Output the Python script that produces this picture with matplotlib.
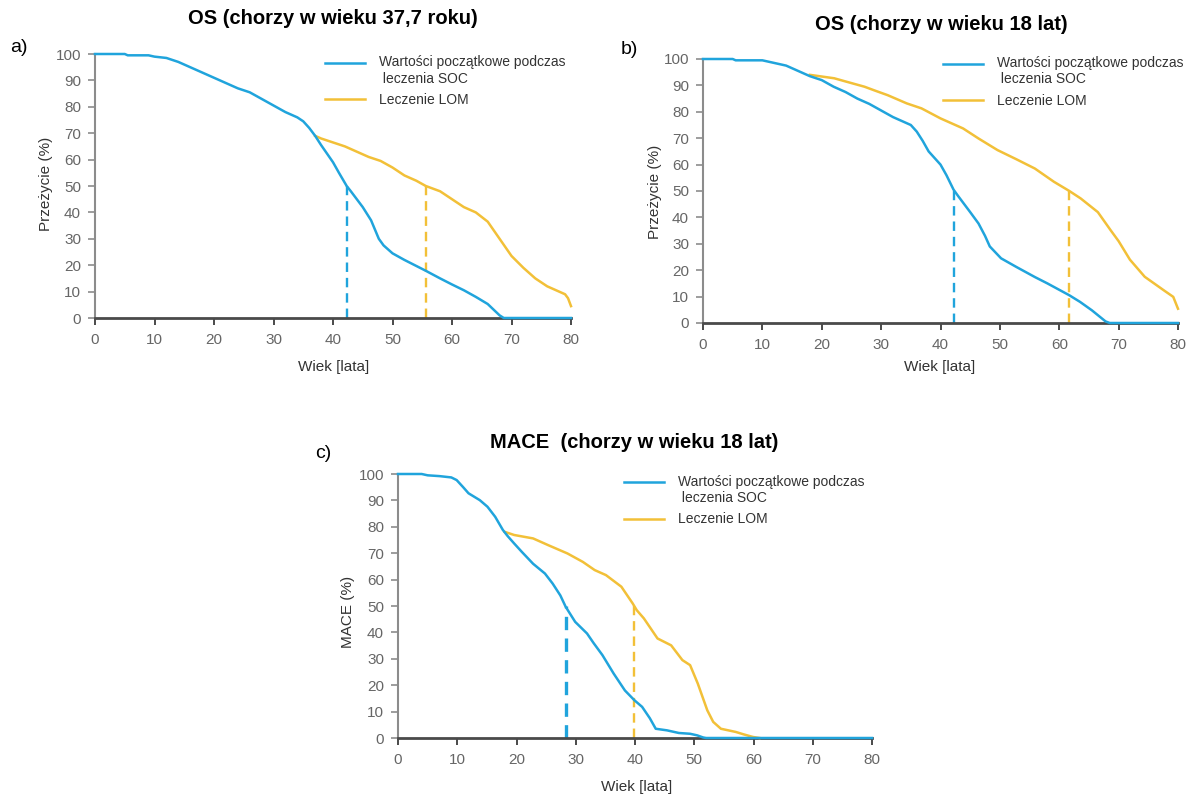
import matplotlib
matplotlib.use('Agg')
import matplotlib.pyplot as plt
from matplotlib.legend_handler import HandlerLine2D
from matplotlib.lines import Line2D
import numpy as np

plt.rcParams['font.family'] = ['Liberation Sans', 'DejaVu Sans']

BLUE = '#20a4dc'
YELLOW = '#f2c038'
GREY = '#666666'

# --- a) OS, chorzy w wieku 37,7 roku
a_age_soc = [0, 5, 5.5, 9, 10, 12, 14, 16, 18, 20, 22, 24, 26, 28, 30, 32, 34, 35, 36, 37,
             38, 40, 41, 42.3, 43, 45, 46.4, 47.7, 48.5, 50, 52, 55.5, 58, 60, 62, 64, 66,
             68, 68.7, 80]
a_soc = [100, 100, 99.5, 99.5, 99, 98.5, 97, 95, 93, 91, 89, 87, 85.5, 83, 80.5, 78, 76, 74.5,
         72, 69, 65.5, 59, 55, 50, 48, 42, 37, 30, 27.5, 24.5, 22, 18, 15, 12.7, 10.5, 8, 5.3,
         1, 0, 0]
a_age_lom = [37, 38, 40, 42, 44, 46, 48, 50, 52, 54, 55.6, 58, 60, 62, 64, 66, 68, 70, 72, 74,
             76, 78, 79, 79.5, 80]
a_lom = [69, 68, 66.5, 65, 63, 61, 59.5, 57, 54, 52, 50, 48, 45, 42, 40, 36.5, 30, 23.5, 19,
         15, 12, 10, 9, 7.5, 4.5]
a_median = [42.3, 55.6]

# --- b) OS, chorzy w wieku 18 lat
b_age_soc = [0, 5, 5.5, 10, 12, 14, 16, 18, 20, 22, 24, 26, 28, 30, 32, 34, 35, 36, 37, 38, 40,
             41, 42.2, 43, 45, 46.4, 47.5, 48.3, 50.2, 52.8, 55.9, 58, 61.7, 63.5, 65.5, 67.8,
             68.5, 80]
b_soc = [100, 100, 99.5, 99.5, 98.5, 97.5, 95.5, 93.5, 92, 89.5, 87.5, 85, 83, 80.5, 78, 76,
         75, 72.5, 69, 65, 60, 56, 50.5, 48, 42, 37.7, 33, 29, 24.5, 21.2, 17.4, 15, 10.5, 8,
         4.8, 0.6, 0, 0]
b_age_lom = [18, 20.2, 22.1, 24, 27.2, 29, 31.1, 34.3, 36.8, 40, 43.8, 46.4, 49.6, 52.8, 55.9,
             59.1, 61.7, 63.6, 66.5, 68.7, 70, 71.9, 74.4, 77.6, 79.2, 80]
b_lom = [94, 93.3, 92.7, 91.5, 89.5, 88, 86.3, 83.2, 81.3, 77.5, 73.7, 69.9, 65.5, 62, 58.5,
         53.5, 50, 47.2, 42, 35, 31, 24, 17.5, 12.4, 9.9, 5.4]
b_median = [42.3, 61.7]

# --- c) MACE, chorzy w wieku 18 lat
c_age_soc = [0, 4, 5, 7, 9, 9.9, 11, 11.9, 13.8, 15.1, 16.4, 17.7, 18.5, 19.6, 20.9, 22.8, 24.8,
             26.1, 27.4, 28.3, 29.9, 31.9, 33, 34.5, 36.4, 38.3, 39.9, 41.2, 42.5, 43.5, 45.4,
             47.4, 49.3, 50.5, 51.5, 52, 80]
c_soc = [100, 100, 99.5, 99.2, 98.7, 97.7, 95, 92.7, 90.1, 87.6, 83.8, 78.8, 76.5, 73.7, 70.5,
         66, 62.3, 58.5, 54, 49.7, 44, 39.6, 36, 31.4, 24.4, 18, 14.3, 11.8, 7.5, 3.5, 2.9, 1.9,
         1.6, 1, 0.2, 0, 0]
c_age_lom = [18, 19.6, 22.8, 25.4, 28.6, 31.2, 33.2, 35.1, 37.7, 39.6, 40.3, 41.5, 43.8, 46.1,
             48, 49.3, 50.6, 52.2, 53.2, 54.5, 57, 58.3, 59.9, 61]
c_lom = [78.1, 76.9, 75.6, 73, 69.9, 66.7, 63.6, 61.7, 57.3, 51, 48.4, 45.3, 37.7, 35.1, 29.5,
         27.6, 20.6, 10.5, 6.1, 3.5, 2.3, 1.4, 0.4, 0]
c_median = [28.3, 39.9]

xticks = [0, 10, 20, 30, 40, 50, 60, 70, 80]
yticks = [0, 10, 20, 30, 40, 50, 60, 70, 80, 90, 100]
lab_soc = 'Wartości początkowe podczas\n leczenia SOC'
lab_lom = 'Leczenie LOM'


class TopLine(HandlerLine2D):
    # put the line key next to the first text line instead of the middle
    def create_artists(self, legend, orig_handle, xdescent, ydescent, width, height, fontsize, trans):
        arts = super().create_artists(legend, orig_handle, xdescent, ydescent, width, height,
                                      fontsize, trans)
        for a in arts:
            a.set_ydata(np.asarray(a.get_ydata()) + 0.58 * fontsize)
        return arts


def panel(ax, age_soc, soc, age_lom, lom, median, leg_xy, dash_lw):
    ax.vlines(median[0], 0, 50, colors=BLUE, lw=dash_lw, linestyles=(0, (4, 2.5)), zorder=2)
    ax.vlines(median[1], 0, 50, colors=YELLOW, lw=1.7, linestyles=(0, (4, 2.5)), zorder=2)
    l2, = ax.plot(age_lom, lom, color=YELLOW, lw=1.8, zorder=3, clip_on=False)
    l1, = ax.plot(age_soc, soc, color=BLUE, lw=1.8, zorder=4, clip_on=False)
    ax.set_xlim(0, 80)
    ax.set_ylim(0, 100)
    ax.set_xticks(xticks)
    ax.set_yticks(yticks)
    for s in ['top', 'right']:
        ax.spines[s].set_visible(False)
    ax.spines['left'].set_color('#8c8c8c')
    ax.spines['left'].set_linewidth(1.5)
    ax.spines['bottom'].set_color('#4a4a4a')
    ax.spines['bottom'].set_linewidth(2)
    ax.tick_params(axis='y', length=5, width=1.2, color='#8c8c8c', pad=5,
                   labelsize=11, labelcolor=GREY)
    ax.tick_params(axis='x', length=5, width=1.4, color='#4a4a4a', pad=6,
                   labelsize=11, labelcolor=GREY)
    ax.legend([l1, l2], [lab_soc, lab_lom], loc='upper left', bbox_to_anchor=leg_xy,
              frameon=False, fontsize=10, handlelength=2.9, handletextpad=1.0,
              labelspacing=0.55, borderpad=0, borderaxespad=0,
              handler_map={l1: TopLine()}, labelcolor='#333333')


fig = plt.figure(figsize=(11.94, 7.96), dpi=100)
W, H = 1194, 796


def box(l, r, t, b):
    return [l / W, 1 - b / H, (r - l) / W, (b - t) / H]


ax_a = fig.add_axes(box(95, 571, 54, 318))
ax_b = fig.add_axes(box(703, 1178, 59, 323))
ax_c = fig.add_axes(box(398, 872, 474, 738))

panel(ax_a, a_age_soc, a_soc, a_age_lom, a_lom, a_median, (0.483, 0.995), 1.7)
panel(ax_b, b_age_soc, b_soc, b_age_lom, b_lom, b_median, (0.505, 1.012), 1.7)
panel(ax_c, c_age_soc, c_soc, c_age_lom, c_lom, c_median, (0.477, 0.998), 2.4)


def ftext(x, y, s, **kw):
    fig.text(x / W, 1 - y / H, s, ha='center', va='center', **kw)


ftext(333, 19, 'OS (chorzy w wieku 37,7 roku)', fontsize=14.5, fontweight='bold')
ftext(941, 25, 'OS (chorzy w wieku 18 lat)', fontsize=14.5, fontweight='bold')
ftext(634, 443, 'MACE  (chorzy w wieku 18 lat)', fontsize=14.5, fontweight='bold')
ftext(19, 48, 'a)', fontsize=14)
ftext(629, 50, 'b)', fontsize=14)
ftext(323, 453, 'c)', fontsize=14)
ftext(46, 184, 'Przeżycie (%)', fontsize=11, rotation=90, color='#333333')
ftext(655, 192, 'Przeżycie (%)', fontsize=11, rotation=90, color='#333333')
ftext(348, 612, 'MACE (%)', fontsize=11, rotation=90, color='#333333')
ftext(334, 367, 'Wiek [lata]', fontsize=11, color='#333333')
ftext(940, 367, 'Wiek [lata]', fontsize=11, color='#333333')
ftext(637, 787, 'Wiek [lata]', fontsize=11, color='#333333')

fig.savefig('out.png', dpi=100)
